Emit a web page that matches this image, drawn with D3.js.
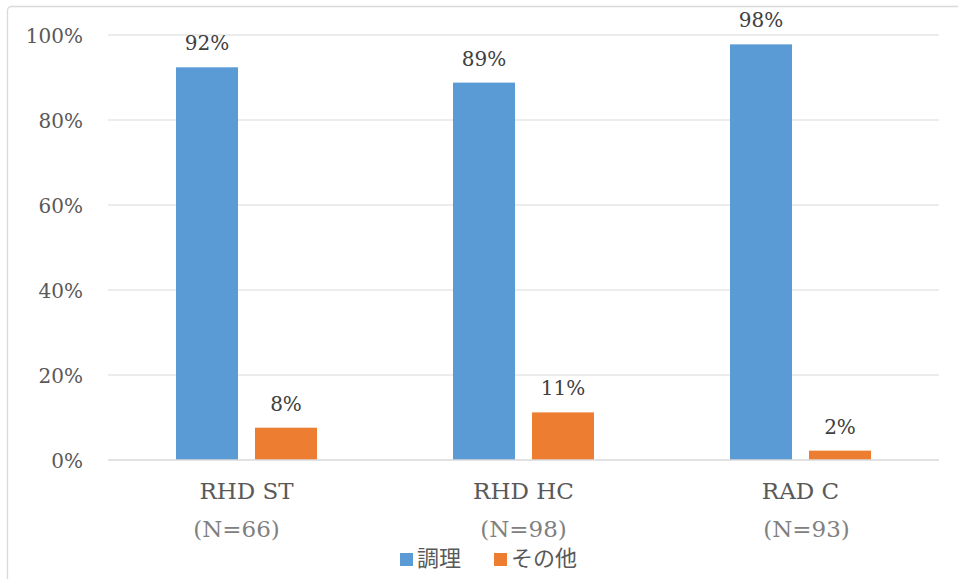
<!DOCTYPE html>
<html>
<head>
<meta charset="utf-8">
<script src="https://cdn.jsdelivr.net/npm/d3@7"></script>
<style>
  html, body { margin: 0; padding: 0; background: #fff; }
  svg { display: block; }
</style>
</head>
<body>
<svg id="chart" width="958" height="579"></svg>
<script>
// Share of responses per survey group
const categories = ["RHD ST", "RHD HC", "RAD C"];
const sampleSizes = ["(N=66)", "(N=98)", "(N=93)"];
const seriesNames = ["調理", "その他"];
const cookingShare = [0.924, 0.888, 0.978];
const otherShare = [0.076, 0.112, 0.022];
const yTicks = [0, 0.2, 0.4, 0.6, 0.8, 1.0];
const seriesColors = ["#5B9BD5", "#ED7D31"];

const svg = d3.select("#chart");
const W = 958, H = 579;
const plot = { left: 108, right: 939, top: 35, bottom: 460 };
const latin = "'DejaVu Serif', serif";
const cjk = "'Noto Sans CJK JP', 'Noto Sans', sans-serif";
const textColor = "#595959";

// chart frame
svg.append("rect")
  .attr("x", 7.5).attr("y", 6.5)
  .attr("width", W + 20).attr("height", H + 20)
  .attr("rx", 4)
  .attr("fill", "#fff")
  .attr("stroke", "#d9d9d9")
  .attr("stroke-width", 1.3);

const x0 = d3.scaleBand().domain(categories).range([plot.left, plot.right]).padding(0);
const x1 = d3.scaleBand().domain(seriesNames).range([0, x0.bandwidth()])
  .paddingInner(0.215).paddingOuter(0.861);
const y = d3.scaleLinear().domain([0, 1]).range([plot.bottom, plot.top]);

// horizontal gridlines
svg.append("g")
  .selectAll("line")
  .data(yTicks.filter(t => t > 0))
  .join("line")
  .attr("x1", plot.left).attr("x2", plot.right)
  .attr("y1", d => y(d)).attr("y2", d => y(d))
  .attr("stroke", "#d9d9d9")
  .attr("stroke-width", 1.2);

// y axis tick labels
const yAxis = d3.axisLeft(y).tickValues(yTicks).tickFormat(d3.format(".0%")).tickSize(0).tickPadding(0);
const yg = svg.append("g").attr("transform", `translate(${plot.left - 25},0)`).call(yAxis);
yg.select(".domain").remove();
yg.selectAll("text")
  .attr("font-family", latin)
  .attr("font-size", 20)
  .attr("fill", textColor)
  .attr("dy", "0.35em");

// bars
const rows = categories.map((c, i) => ({ cat: c, values: [cookingShare[i], otherShare[i]] }));
const groups = svg.append("g")
  .selectAll("g")
  .data(rows)
  .join("g")
  .attr("transform", d => `translate(${x0(d.cat)},0)`);

const pct = d3.format(".0%");
groups.selectAll("rect")
  .data(d => d.values.map((v, k) => ({ key: seriesNames[k], value: v, k })))
  .join("rect")
  .attr("x", d => x1(d.key))
  .attr("width", x1.bandwidth())
  .attr("y", d => y(d.value))
  .attr("height", d => y(0) - y(d.value))
  .attr("fill", d => seriesColors[d.k]);

// value labels
groups.selectAll("text.val")
  .data(d => d.values.map((v, k) => ({ key: seriesNames[k], value: v })))
  .join("text")
  .attr("class", "val")
  .attr("x", d => x1(d.key) + x1.bandwidth() / 2)
  .attr("y", d => y(d.value) - 17)
  .attr("text-anchor", "middle")
  .attr("font-family", latin)
  .attr("font-size", 20)
  .attr("fill", "#404040")
  .text(d => pct(d.value));

// category baseline
svg.append("line")
  .attr("x1", plot.left).attr("x2", plot.right)
  .attr("y1", plot.bottom).attr("y2", plot.bottom)
  .attr("stroke", "#d9d9d9")
  .attr("stroke-width", 1.6);

// category labels (two lines)
const nShift = [-10, 0, 6];
const xg = svg.append("g");
xg.selectAll("text.cat")
  .data(categories)
  .join("text")
  .attr("class", "cat")
  .attr("x", d => x0(d) + x0.bandwidth() / 2)
  .attr("y", plot.bottom + 39)
  .attr("text-anchor", "middle")
  .attr("font-family", latin)
  .attr("font-size", 23)
  .attr("fill", textColor)
  .text(d => d);
xg.selectAll("text.n")
  .data(sampleSizes)
  .join("text")
  .attr("class", "n")
  .attr("x", (d, i) => x0(categories[i]) + x0.bandwidth() / 2 + nShift[i])
  .attr("y", plot.bottom + 77)
  .attr("text-anchor", "middle")
  .attr("font-family", latin)
  .attr("font-size", 23)
  .attr("fill", "#808080")
  .text(d => d);

// legend
const legend = svg.append("g").attr("transform", "translate(400,553)");
const legendX = [0, 94];
const items = legend.selectAll("g")
  .data(seriesNames)
  .join("g")
  .attr("transform", (d, i) => `translate(${legendX[i]},0)`);
items.append("rect")
  .attr("width", 13).attr("height", 13)
  .attr("fill", (d, i) => seriesColors[i]);
items.append("text")
  .attr("x", 17)
  .attr("y", 13)
  .attr("font-family", cjk)
  .attr("font-size", 22)
  .attr("fill", textColor)
  .text(d => d);
</script>
</body>
</html>
